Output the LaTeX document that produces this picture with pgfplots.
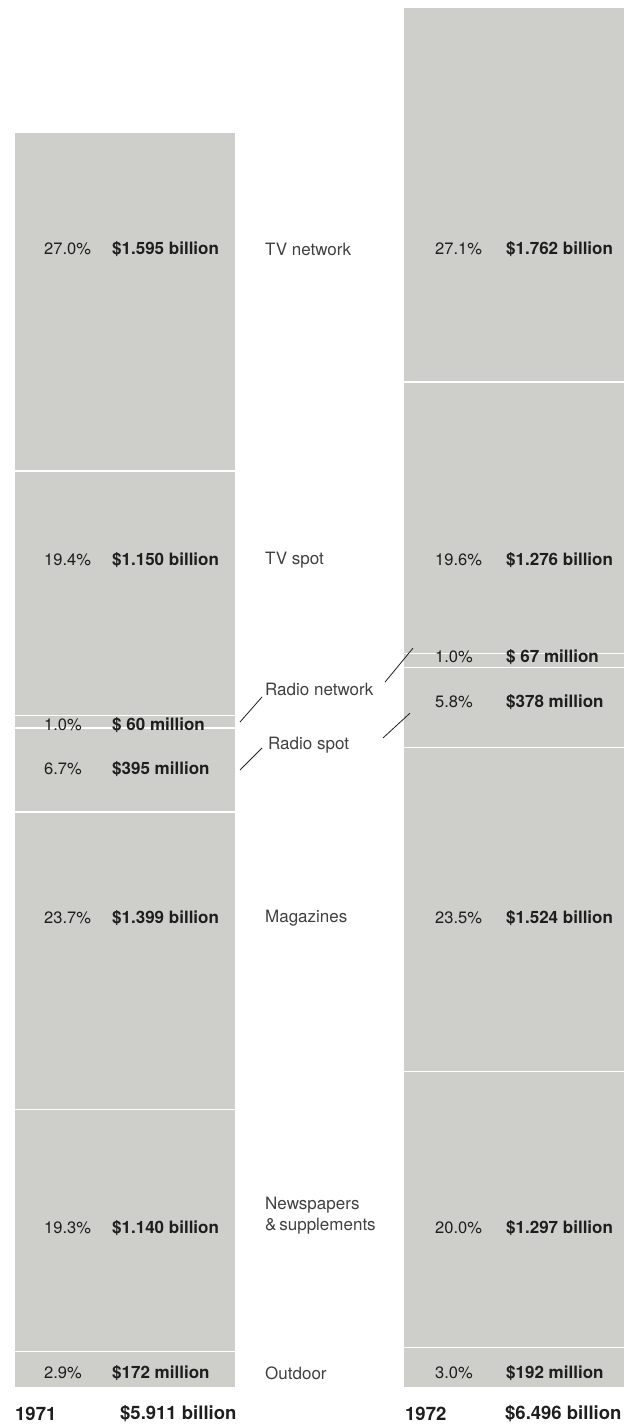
\documentclass[border=0pt]{standalone}
\usepackage{pgfplots}
\pgfplotsset{compat=1.18}
\usepackage{pgfplotstable}
\usepackage{fontspec}
\setmainfont{TeX Gyre Heros}
\definecolor{barfill}{RGB}{206,206,202}
\definecolor{ink}{RGB}{30,30,30}

\tikzset{
  seg/.style={fill=barfill, draw=white, line width=1.3pt},
  pct/.style={anchor=west, inner sep=0pt, text=ink, font=\fontsize{16.5}{18}\selectfont},
  amt/.style={anchor=west, inner sep=0pt, text=ink, font=\fontsize{17}{19}\selectfont\bfseries},
  cat/.style={anchor=west, inner sep=0pt, text=ink!85, font=\fontsize{17}{21}\selectfont, align=left},
  tot/.style={anchor=west, inner sep=0pt, text=ink, font=\fontsize{18.5}{20}\selectfont\bfseries},
}

% advertising spend, billions of dollars (x = bar centre in picture units)
\pgfplotstableread{
x     outdoor news  mags  rspot rnet  tvspot tvnet
125   0.172   1.140 1.399 0.395 0.060 1.150  1.595
514   0.192   1.297 1.524 0.378 0.067 1.276  1.762
}\spend

\begin{document}
\begin{tikzpicture}
\begin{axis}[
    width=635pt, height=1427pt, scale only axis,
    xmin=0, xmax=635,
    ymin=-0.1835, ymax=6.532,
    axis lines=none,
    clip=false,
    set layers,
    ybar stacked, bar width=221,
  ]
  \addplot[seg, on layer=axis background] table[x=x, y=outdoor] {\spend};
  \addplot[seg, on layer=axis background] table[x=x, y=news]    {\spend};
  \addplot[seg, on layer=axis background] table[x=x, y=mags]    {\spend};
  \addplot[seg, on layer=axis background] table[x=x, y=rspot]   {\spend};
  \addplot[seg, on layer=axis background] table[x=x, y=rnet]    {\spend};
  \addplot[seg, on layer=axis background] table[x=x, y=tvspot]  {\spend};
  \addplot[seg, on layer=axis background] table[x=x, y=tvnet]   {\spend};

  % keep the page exactly the size of the axis area
  \path (axis cs:0,-0.1835) rectangle (axis cs:635,6.532);

  % 1971 column
  \node[pct] at (axis cs:44,5.360) {27.0\%};
  \node[amt] at (axis cs:112,5.360) {\$1.595 billion};
  \node[pct] at (axis cs:44,3.896) {19.4\%};
  \node[amt] at (axis cs:112,3.896) {\$1.150 billion};
  \node[pct] at (axis cs:44,3.120) {1.0\%};
  \node[amt] at (axis cs:112,3.120) {\$ 60 million};
  \node[pct] at (axis cs:44,2.913) {6.7\%};
  \node[amt] at (axis cs:112,2.913) {\$395 million};
  \node[pct] at (axis cs:44,2.212) {23.7\%};
  \node[amt] at (axis cs:112,2.212) {\$1.399 billion};
  \node[pct] at (axis cs:44,0.753) {19.3\%};
  \node[amt] at (axis cs:112,0.753) {\$1.140 billion};
  \node[pct] at (axis cs:44,0.071) {2.9\%};
  \node[amt] at (axis cs:112,0.071) {\$172 million};

  % 1972 column
  \node[pct] at (axis cs:435,5.360) {27.1\%};
  \node[amt] at (axis cs:506,5.360) {\$1.762 billion};
  \node[pct] at (axis cs:435,3.896) {19.6\%};
  \node[amt] at (axis cs:506,3.896) {\$1.276 billion};
  \node[pct] at (axis cs:435,3.440) {1.0\%};
  \node[amt] at (axis cs:506,3.440) {\$ 67 million};
  \node[pct] at (axis cs:435,3.228) {5.8\%};
  \node[amt] at (axis cs:506,3.228) {\$378 million};
  \node[pct] at (axis cs:435,2.212) {23.5\%};
  \node[amt] at (axis cs:506,2.212) {\$1.524 billion};
  \node[pct] at (axis cs:435,0.753) {20.0\%};
  \node[amt] at (axis cs:506,0.753) {\$1.297 billion};
  \node[pct] at (axis cs:435,0.071) {3.0\%};
  \node[amt] at (axis cs:506,0.071) {\$192 million};

  % category names between the bars
  \node[cat] at (axis cs:265,5.360) {TV network};
  \node[cat] at (axis cs:265,3.896) {TV spot};
  \node[cat] at (axis cs:265,3.289) {Radio network};
  \node[cat] at (axis cs:268,3.026) {Radio spot};
  \node[cat] at (axis cs:265,2.212) {Magazines};
  \node[cat] at (axis cs:265,0.810) {Newspapers\\\&\,supplements};
  \node[cat] at (axis cs:265,0.071) {Outdoor};

  % leader lines for the thin radio segments
  \draw[ink, line width=0.8pt] (axis cs:240,3.134) -- (axis cs:262,3.252);
  \draw[ink, line width=0.8pt] (axis cs:240,2.908) -- (axis cs:262,3.012);
  \draw[ink, line width=0.8pt] (axis cs:385,3.322) -- (axis cs:413,3.482);
  \draw[ink, line width=0.8pt] (axis cs:383,3.059) -- (axis cs:410,3.176);

  % totals
  \node[tot] at (axis cs:15,-0.122) {1971};
  \node[tot] at (axis cs:120,-0.122) {\$5.911 billion};
  \node[tot] at (axis cs:405,-0.122) {1972};
  \node[tot] at (axis cs:505,-0.122) {\$6.496 billion};
\end{axis}
\end{tikzpicture}
\end{document}
